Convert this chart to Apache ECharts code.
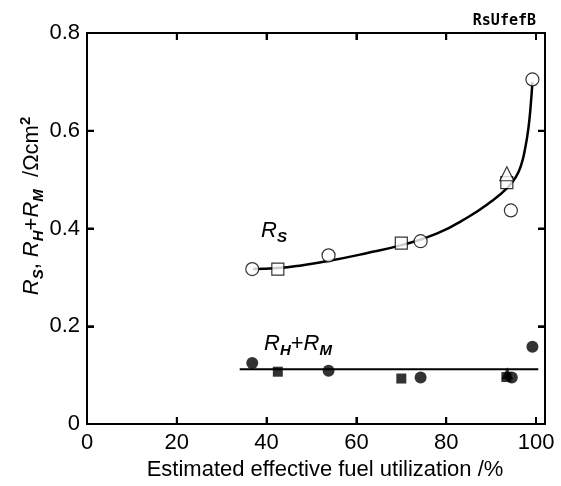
<!DOCTYPE html>
<html>
<head>
<meta charset="utf-8">
<script src="https://cdn.jsdelivr.net/npm/echarts@6/dist/echarts.min.js"></script>
<style>
  html, body { margin: 0; padding: 0; background: #fff; }
  #chart { width: 561px; height: 486px; }
</style>
</head>
<body>
<div id="chart"></div>
<script>
/* ── Axis ranges and tick values ── */
const X_MIN = 0, X_MAX = 102;
const Y_MIN = 0, Y_MAX = 0.8;
const X_TICK_VALUES = [20, 40, 60, 80, 100];
const Y_TICK_VALUES = [0.2, 0.4, 0.6];

/* ── Data ── */
// R_S : open symbols
const rsCircleX   = [36.8, 53.8, 74.3, 94.4, 99.2];
const rsCircleY   = [0.317, 0.345, 0.374, 0.437, 0.705];
const rsSquareX   = [42.5, 70.0, 93.5];
const rsSquareY   = [0.317, 0.370, 0.494];
const rsTriangleX = [93.5];
const rsTriangleY = [0.512];

// R_S guide curve (traced)
const rsCurveX = [37, 42.5, 48, 54, 62, 70, 78, 85, 90, 93.5, 95.5, 96.7, 97.6, 98.3, 98.8, 99.2];
const rsCurveY = [0.317, 0.319, 0.325, 0.334, 0.349, 0.366, 0.390, 0.424, 0.455, 0.482, 0.505, 0.530, 0.565, 0.605, 0.650, 0.700];

// R_H + R_M : filled symbols
const rhmCircleX   = [36.8, 53.8, 74.3, 94.6, 99.2];
const rhmCircleY   = [0.125, 0.109, 0.095, 0.095, 0.158];
const rhmSquareX   = [42.5, 70.0, 93.4];
const rhmSquareY   = [0.107, 0.093, 0.096];
const rhmTriangleX = [93.6];
const rhmTriangleY = [0.104];

// R_H + R_M average line
const rhmLineX = [34, 100.5];
const rhmLineY = [0.112, 0.112];

/* ── Styles ── */
const FONT = '"Liberation Sans", Arial, sans-serif';
const INK = '#000';
const TICK_LEN = 7;

const zip = (xs, ys) => xs.map((x, i) => [x, ys[i]]);

function openSym(symbol, size, xs, ys) {
    return {
        type: 'scatter', symbol, symbolSize: size, z: 4,
        itemStyle: { color: '#fff', borderColor: INK, borderWidth: 1.2 },
        data: zip(xs, ys),
    };
}
function filledSym(symbol, size, xs, ys) {
    return {
        type: 'scatter', symbol, symbolSize: size, z: 4,
        itemStyle: { color: INK },
        data: zip(xs, ys),
    };
}
// inward tick marks on the frame, placed through the axes' scales
function tickMarks(data, vertical, dir) {
    return {
        type: 'scatter', symbol: 'rect', silent: true, clip: false, z: 5,
        symbolSize: vertical ? [2, TICK_LEN] : [TICK_LEN, 2],
        symbolOffset: vertical ? [0, dir * TICK_LEN / 2] : [dir * TICK_LEN / 2, 0],
        itemStyle: { color: INK, opacity: 1 },
        data,
    };
}

const richLabel = {
    r:   { fontFamily: FONT, fontSize: 22, fontStyle: 'italic', lineHeight: 28, color: INK },
    t:   { fontFamily: FONT, fontSize: 22, lineHeight: 28, color: INK },
    sub: { fontFamily: FONT, fontSize: 15, fontStyle: 'italic', fontWeight: 'bold', lineHeight: 15, verticalAlign: 'bottom', color: INK },
    sup: { fontFamily: FONT, fontSize: 15, fontWeight: 'bold', lineHeight: 15, verticalAlign: 'top', color: INK },
};

const chart = echarts.init(document.getElementById('chart'), null, { renderer: 'canvas' });

const axisLine = () => ({ show: true, onZero: false, lineStyle: { color: INK, width: 2 } });
const axisTick = () => ({ show: true, inside: true, length: TICK_LEN, lineStyle: { color: INK, width: 2 } });
const hideOffTick = (v) => (v % 20 === 0 ? String(v) : '');

chart.setOption({
    animation: false,
    backgroundColor: '#fff',
    title: {
        text: 'RsUfefB',
        right: 20, top: 9,
        textStyle: { fontFamily: '"DejaVu Sans Mono", monospace', fontWeight: 'bold', fontSize: 15, color: INK },
    },
    grid: { left: 87, right: 16, top: 33, bottom: 59 },
    xAxis: [
        {
            type: 'value', min: X_MIN, max: X_MAX, interval: 20,
            name: 'Estimated effective fuel utilization /%',
            nameLocation: 'middle', nameGap: 35,
            nameTextStyle: { fontFamily: FONT, fontSize: 22, color: INK, padding: [0, 0, 0, 18] },
            axisLine: axisLine(),
            axisTick: axisTick(),
            axisLabel: { fontFamily: FONT, fontSize: 22, color: INK, margin: 8, formatter: hideOffTick },
            splitLine: { show: false },
        },
        {
            type: 'value', min: X_MIN, max: X_MAX, interval: 20, position: 'top',
            axisLine: axisLine(),
            axisTick: axisTick(),
            axisLabel: { show: false },
            splitLine: { show: false },
        },
    ],
    yAxis: [
        {
            type: 'value', min: Y_MIN, max: Y_MAX, interval: 0.2,
            axisLine: axisLine(),
            axisTick: axisTick(),
            axisLabel: { fontFamily: FONT, fontSize: 22, color: INK, margin: 7 },
            splitLine: { show: false },
        },
        {
            type: 'value', min: Y_MIN, max: Y_MAX, interval: 0.2, position: 'right',
            axisLine: axisLine(),
            axisTick: axisTick(),
            axisLabel: { show: false },
            splitLine: { show: false },
        },
    ],
    graphic: [
        {   // y axis title
            type: 'text', x: 32, y: 206, rotation: Math.PI / 2,
            style: {
                text: '{r|R}{sub|S}{t|, }{r|R}{sub|H}{t|+}{r|R}{sub|M}{t|  /Ωcm}{sup|2}',
                rich: richLabel, align: 'center', verticalAlign: 'middle',
            },
        },
        {   // R_S annotation
            type: 'text', x: 261, y: 231,
            style: { text: '{r|R}{sub|S}', rich: richLabel, align: 'left', verticalAlign: 'middle' },
        },
        {   // R_H+R_M annotation
            type: 'text', x: 264, y: 344,
            style: { text: '{r|R}{sub|H}{t|+}{r|R}{sub|M}', rich: richLabel, align: 'left', verticalAlign: 'middle' },
        },
    ],
    series: [
        // frame ticks
        tickMarks(X_TICK_VALUES.map(v => [v, Y_MIN]), true, -1),
        tickMarks(X_TICK_VALUES.map(v => [v, Y_MAX]), true, 1),
        tickMarks(Y_TICK_VALUES.map(v => [X_MIN, v]), false, 1),
        tickMarks(Y_TICK_VALUES.map(v => [X_MAX, v]), false, -1),
        {
            type: 'line', smooth: 0.5, showSymbol: false, z: 3,
            lineStyle: { color: INK, width: 2.5 },
            data: zip(rsCurveX, rsCurveY),
        },
        {
            type: 'line', showSymbol: false, z: 3,
            lineStyle: { color: INK, width: 2 },
            data: zip(rhmLineX, rhmLineY),
        },
        openSym('circle', 13, rsCircleX, rsCircleY),
        openSym('rect', 12, rsSquareX, rsSquareY),
        openSym('triangle', 14, rsTriangleX, rsTriangleY),
        filledSym('triangle', 12, rhmTriangleX, rhmTriangleY),
        filledSym('rect', 10, rhmSquareX, rhmSquareY),
        filledSym('circle', 12, rhmCircleX, rhmCircleY),
    ],
});
</script>
</body>
</html>
